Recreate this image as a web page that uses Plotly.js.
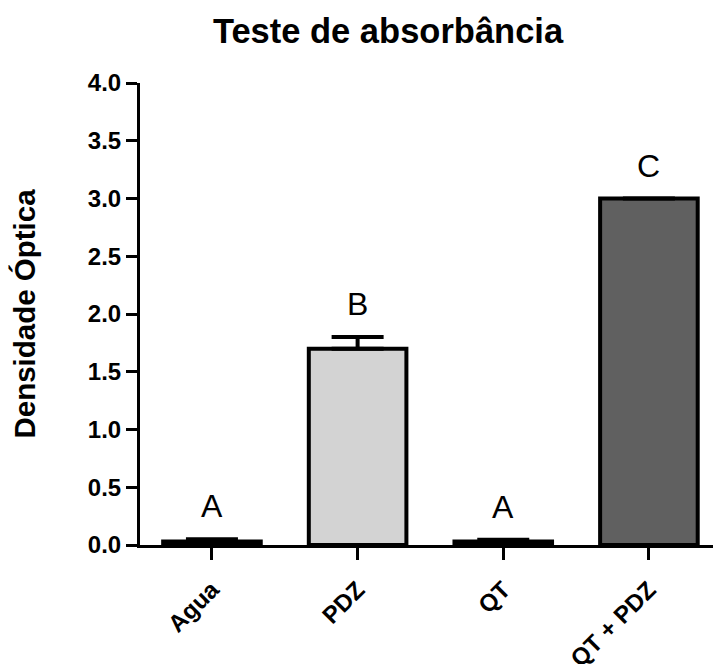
<!DOCTYPE html>
<html>
<head>
<meta charset="utf-8">
<script src="https://cdn.plot.ly/plotly-3.0.1.min.js"></script>
<style>html,body{margin:0;padding:0;background:#fff;}#chart{width:713px;height:664px;}</style>
</head>
<body>
<div id="chart"></div>
<script>
const categories = ["Agua", "PDZ", "QT", "QT + PDZ"];
const values = [0.03, 1.70, 0.03, 3.00];
const errors = [0.02, 0.10, 0.015, 0.0];
const groupLetters = ["A", "B", "A", "C"];
const barColors = ["#ffffff", "#d3d3d3", "#ffffff", "#606060"];
const yTicks = [0, 0.5, 1.0, 1.5, 2.0, 2.5, 3.0, 3.5, 4.0];

const FONT = "Liberation Sans, Arial, Helvetica, sans-serif";

const trace = {
  type: "bar",
  x: categories,
  y: values,
  width: 0.67,
  marker: {color: barColors, line: {color: "#000", width: 4}},
  error_y: {type: "data", symmetric: false, array: errors, arrayminus: errors.map(() => 0),
            color: "#000", thickness: 4, width: 26, visible: true},
  hoverinfo: "none"
};

const annotations = categories.map((c, i) => ({
  x: c, y: values[i] + errors[i], xref: "x", yref: "y",
  text: groupLetters[i], showarrow: false, yanchor: "bottom", yshift: 13,
  font: {family: FONT, size: 32, color: "#000"}
}));

const layout = {
  width: 713, height: 664,
  margin: {l: 140, r: 0, t: 83, b: 119, pad: 0},
  paper_bgcolor: "#fff", plot_bgcolor: "#fff",
  showlegend: false,
  title: {text: "Teste de absorbância", font: {family: FONT, size: 34.5, weight: "bold", color: "#000"},
          x: 388/713, xref: "container", xanchor: "center", y: 1 - 31/664, yref: "container", yanchor: "middle"},
  xaxis: {
    range: [-0.494, 3.44], showgrid: false, zeroline: false,
    showline: true, linecolor: "#000", linewidth: 3,
    ticks: "outside", ticklen: 12, tickwidth: 3, tickcolor: "#000",
    tickangle: -45, tickfont: {family: FONT, size: 24, weight: "bold", color: "#000"},
    ticklabelstandoff: 6,
    fixedrange: true
  },
  yaxis: {
    range: [0, 4.0], tickvals: yTicks, ticktext: yTicks.map(v => v.toFixed(1)),
    showgrid: false, zeroline: false,
    showline: true, linecolor: "#000", linewidth: 3,
    ticks: "outside", ticklen: 11, tickwidth: 3, tickcolor: "#000",
    tickfont: {family: FONT, size: 24, weight: "bold", color: "#000"},
    title: {text: "Densidade Óptica", font: {family: FONT, size: 29.5, weight: "bold", color: "#000"}, standoff: 44},
    fixedrange: true
  },
  annotations: annotations
};

Plotly.newPlot("chart", [trace], layout, {staticPlot: true, displayModeBar: false});
</script>
</body>
</html>
